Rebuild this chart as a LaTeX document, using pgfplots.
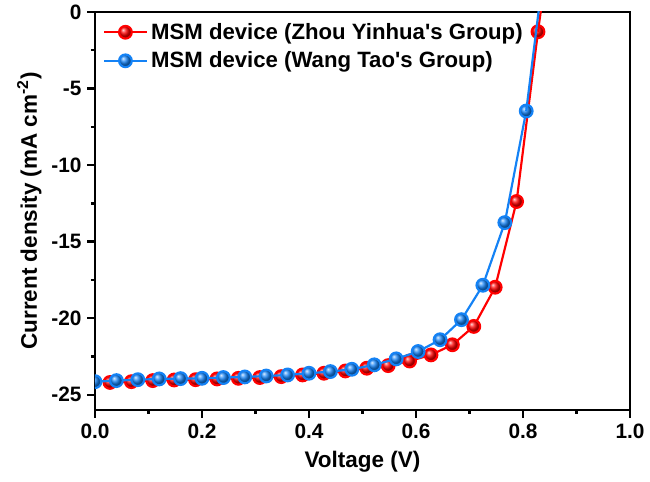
\documentclass[border=0pt]{standalone}
\usepackage{pgfplots}
\pgfplotsset{compat=1.18}
\usepackage{fontspec}
\setmainfont{Liberation Sans}
\usetikzlibrary{calc}
\definecolor{myblue}{RGB}{20,130,245}
\definecolor{myred}{RGB}{255,0,0}
\begin{document}
\begin{tikzpicture}
\begin{axis}[
  scale only axis,
  width=321pt, height=238.8pt,
  xmin=0, xmax=1.0, ymin=-26, ymax=0,
  axis line style={line width=1.6pt},
  clip marker paths=true,
  xtick={0,0.2,0.4,0.6,0.8,1.0},
  xticklabels={0.0,0.2,0.4,0.6,0.8,1.0},
  ytick={-25,-20,-15,-10,-5,0},
  yticklabels={-25,-20,-15,-10,-5,0},
  minor xtick={0.1,0.3,0.5,0.7,0.9},
  minor ytick={-22.5,-17.5,-12.5,-7.5,-2.5},
  tick align=outside,
  xtick pos=bottom, ytick pos=left,
  major tick length=4.6pt, minor tick length=2.4pt,
  tick style={line width=1.4pt, black},
  ticklabel style={font=\fontsize{12.5}{14}\selectfont\bfseries},
  xlabel={Voltage (V)},
  ylabel={Current density (mA cm\textsuperscript{-2})},
  label style={font=\fontsize{13.5}{15}\selectfont\bfseries},
  xlabel style={yshift=-1pt},
  ylabel style={yshift=-1pt},
  legend style={draw=none, fill=none, at={(rel axis cs:0.005,0.99)}, anchor=north west,
    font=\fontsize{13.3}{15}\selectfont\bfseries, row sep=2pt},
  legend cell align=left,
  legend image code/.code={
    \draw[#1, line width=1.3pt] (0cm,0cm) -- (0.9cm,0cm);
    \draw[#1, only marks] plot coordinates {(0.45cm,0cm)};
  },
]
\coordinate (bl) at (rel axis cs:0,0);
\coordinate (tr) at (rel axis cs:1,1);
\addplot[myred, line width=1.3pt, mark=ball, mark size=3.8pt, mark options={ball color=myred}] coordinates {
(0.028,-24.20) (0.068,-24.15) (0.108,-24.08) (0.148,-24.04) (0.188,-24.02)
(0.228,-23.97) (0.268,-23.93) (0.308,-23.88) (0.348,-23.82) (0.388,-23.71)
(0.428,-23.60) (0.468,-23.45) (0.508,-23.27) (0.548,-23.10) (0.588,-22.80)
(0.628,-22.40) (0.668,-21.74) (0.708,-20.54) (0.748,-17.98) (0.788,-12.38)
(0.828,-1.29)
};
\addlegendentry{MSM device (Zhou Yinhua\textquotesingle s Group)}
\addplot[myblue, line width=1.3pt, mark=ball, mark size=3.8pt, mark options={ball color=myblue}] coordinates {
(0.000,-24.15) (0.040,-24.08) (0.080,-24.02) (0.120,-23.97) (0.160,-23.95)
(0.200,-23.93) (0.240,-23.88) (0.280,-23.84) (0.320,-23.78) (0.360,-23.71)
(0.400,-23.60) (0.440,-23.49) (0.480,-23.34) (0.522,-23.05) (0.563,-22.66)
(0.604,-22.18) (0.645,-21.41) (0.685,-20.10) (0.725,-17.85) (0.766,-13.76)
(0.806,-6.47)
};
\addlegendentry{MSM device (Wang Tao\textquotesingle s Group)}
\addplot[myred, line width=1.3pt, no marks, forget plot] coordinates {(0.828,-1.29) (0.868,9.0)};
\addplot[myblue, line width=1.3pt, no marks, forget plot] coordinates {(0.806,-6.47) (0.846,4.8)};
\end{axis}
\pgfresetboundingbox
\path ($(bl)+(-57pt,-42.6pt)$) rectangle ($(tr)+(12pt,7.2pt)$);
\end{tikzpicture}
\end{document}
